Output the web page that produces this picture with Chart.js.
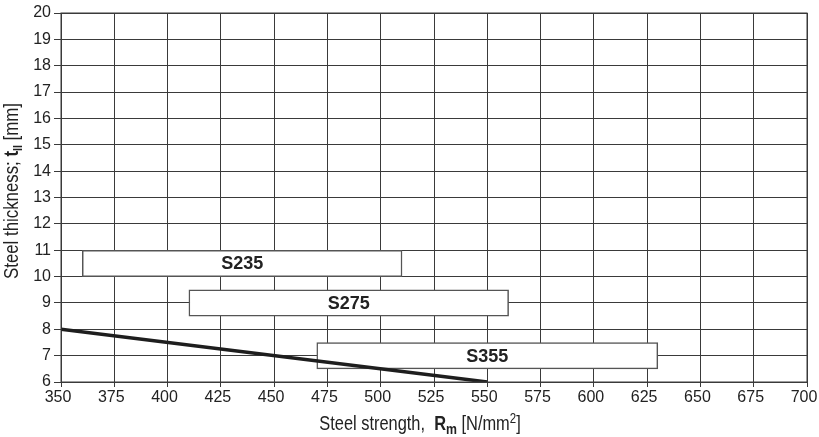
<!DOCTYPE html>
<html>
<head>
<meta charset="utf-8">
<script src="https://cdn.jsdelivr.net/npm/chart.js@4"></script>
<style>
  html, body { margin: 0; padding: 0; background: #fff; }
  #wrap { width: 819px; height: 437px; }
</style>
</head>
<body>
<div id="wrap"><canvas id="c" width="819" height="437"></canvas></div>
<script>
// ---- data ----
const gradeNames = ['S235', 'S275', 'S355'];
const gradeStrengthFrom = [360, 410, 470];
const gradeStrengthTo = [510, 560, 630];
const gradeThicknessMid = [10.5, 9, 7];
const limitStrength = [350, 550];
const limitThickness = [8, 6];
const xTicks = [350, 375, 400, 425, 450, 475, 500, 525, 550, 575, 600, 625, 650, 675, 700];
const yTicks = [6, 7, 8, 9, 10, 11, 12, 13, 14, 15, 16, 17, 18, 19, 20];

const FONT = '"Liberation Sans", Arial, sans-serif';
const TXT = '#222';
const GRID = '#3a3a3a';
const SQUEEZE = 0.82;

const barLabels = {
  id: 'barLabels',
  afterDatasetsDraw(chart) {
    const meta = chart.getDatasetMeta(1);
    const ctx = chart.ctx;
    ctx.save();
    ctx.font = 'bold 18px ' + FONT;
    ctx.fillStyle = TXT;
    ctx.textAlign = 'center';
    ctx.textBaseline = 'middle';
    meta.data.forEach((bar, i) => {
      const p = bar.getProps(['x', 'base', 'y'], true);
      ctx.fillText(gradeNames[i], (p.x + p.base) / 2, p.y + 1);
    });
    ctx.restore();
  }
};

function drawSegments(ctx, segs) {
  let total = 0;
  segs.forEach(s => { ctx.font = s.font; total += ctx.measureText(s.t).width; });
  let x = -total / 2;
  segs.forEach(s => {
    ctx.font = s.font;
    ctx.fillText(s.t, x, (s.dy || 0));
    x += ctx.measureText(s.t).width;
  });
}

const axisTitles = {
  id: 'axisTitles',
  afterDraw(chart) {
    const ctx = chart.ctx;
    ctx.save();
    ctx.fillStyle = TXT;
    ctx.textBaseline = 'alphabetic';
    ctx.textAlign = 'left';
    ctx.save();
    ctx.translate(420, 430);
    ctx.scale(SQUEEZE, 1);
    drawSegments(ctx, [
      { t: 'Steel strength,  ', font: '20px ' + FONT },
      { t: 'R', font: 'bold 20px ' + FONT },
      { t: 'm', font: 'bold 15px ' + FONT, dy: 4 },
      { t: ' [N/mm', font: '20px ' + FONT },
      { t: '2', font: '14px ' + FONT, dy: -7 },
      { t: ']', font: '20px ' + FONT }
    ]);
    ctx.restore();
    ctx.translate(18, 191);
    ctx.rotate(-Math.PI / 2);
    ctx.scale(SQUEEZE, 1);
    drawSegments(ctx, [
      { t: 'Steel thickness; ', font: '20.5px ' + FONT },
      { t: 't', font: 'bold 20.5px ' + FONT },
      { t: 'II', font: 'bold 13px ' + FONT, dy: 4 },
      { t: ' [mm]', font: '20.5px ' + FONT }
    ]);
    ctx.restore();
  }
};

new Chart(document.getElementById('c'), {
  type: 'bar',
  data: {
    datasets: [
      {
        type: 'line',
        order: 0,
        data: limitStrength.map((s, i) => ({ x: s, y: limitThickness[i] })),
        borderColor: '#1e1e1e',
        borderWidth: 3.5,
        pointRadius: 0,
        fill: false,
        tension: 0
      },
      {
        type: 'bar',
        order: 1,
        indexAxis: 'y',
        data: gradeNames.map((n, i) => ({ x: [gradeStrengthFrom[i], gradeStrengthTo[i]], y: gradeThicknessMid[i] })),
        backgroundColor: '#ffffff',
        borderColor: '#555',
        borderWidth: 1.5,
        borderSkipped: false,
        barPercentage: 1,
        categoryPercentage: 1
      }
    ]
  },
  options: {
    responsive: false,
    animation: false,
    devicePixelRatio: 1,
    layout: { padding: { top: 13, right: 12, left: 0, bottom: 0 } },
    plugins: { legend: { display: false }, tooltip: { enabled: false } },
    scales: {
      x: {
        type: 'linear',
        offset: false,
        min: 350, max: 700,
        afterBuildTicks: s => { s.ticks = xTicks.map(v => ({ value: v })); },
        afterFit: s => { s.height = 55; s.paddingLeft = 0; s.paddingRight = 0; },
        grid: { color: GRID, lineWidth: 1, tickLength: 5, drawTicks: true, offset: false },
        border: { color: GRID, width: 1 },
        ticks: { color: TXT, font: { family: FONT, size: 16 }, padding: 1, labelOffset: -3, maxRotation: 0, autoSkip: false }
      },
      y: {
        type: 'linear',
        offset: false,
        min: 6, max: 20,
        afterBuildTicks: s => { s.ticks = yTicks.map(v => ({ value: v })); },
        afterFit: s => { s.width = 61; s.paddingTop = 0; s.paddingBottom = 0; },
        grid: { color: GRID, lineWidth: 1, tickLength: 7, drawTicks: true, offset: false },
        border: { color: GRID, width: 1 },
        ticks: { color: TXT, font: { family: FONT, size: 16 }, padding: 3, autoSkip: false }
      }
    }
  },
  plugins: [barLabels, axisTitles, {
    id: 'frame',
    afterDraw(chart) {
      const a = chart.chartArea, ctx = chart.ctx;
      ctx.save();
      ctx.strokeStyle = GRID;
      ctx.lineWidth = 1;
      ctx.strokeRect(a.left, a.top, a.right - a.left, a.bottom - a.top);
      ctx.restore();
    }
  }]
});
</script>
</body>
</html>
